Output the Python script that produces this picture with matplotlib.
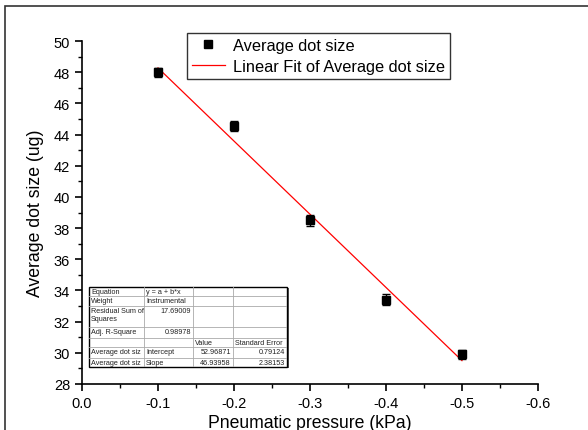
import matplotlib
matplotlib.use("Agg")
import matplotlib.pyplot as plt
import numpy as np
from matplotlib.patches import Rectangle
from matplotlib.lines import Line2D

plt.rcParams['font.family'] = ['Liberation Sans', 'DejaVu Sans']

pressure = [-0.1, -0.2, -0.3, -0.4, -0.5]
dot_size = [48.0, 44.55, 38.5, 33.4, 29.9]
dot_err = [0.3, 0.3, 0.35, 0.35, 0.3]
intercept = 52.96871
slope = 46.93958
xticks = [0.0, -0.1, -0.2, -0.3, -0.4, -0.5, -0.6]
yticks = [28, 30, 32, 34, 36, 38, 40, 42, 44, 46, 48, 50]

table_rows = [
    ["Equation", "y = a + b*x", "", ""],
    ["Weight", "Instrumental", "", ""],
    ["Residual Sum of\nSquares", "17.69009", "", ""],
    ["Adj. R-Square", "0.98978", "", ""],
    ["", "", "Value", "Standard Error"],
    ["Average dot siz", "Intercept", "52.96871", "0.79124"],
    ["Average dot siz", "Slope", "46.93958", "2.38153"],
]

W, H = 588, 431
fig = plt.figure(figsize=(W/100, H/100), dpi=100)

# outer frame
fig.patches.append(Rectangle((5/W, -0.1), 1.2, (H-7)/H + 0.1, transform=fig.transFigure,
                             fill=False, edgecolor='#333333', lw=1.2))

ax = fig.add_axes([82/W, 1-385/H, (538-82)/W, (385-42)/H])
ax.set_xlim(0, -0.6)
ax.set_ylim(28, 50)
for s in ['top', 'right']:
    ax.spines[s].set_visible(False)
for s in ['left', 'bottom']:
    ax.spines[s].set_linewidth(1.2)

ax.set_xticks(xticks)
ax.set_xticklabels([f"{v:.1f}" for v in xticks])
ax.set_yticks(yticks)
ax.set_xticks(np.arange(-0.05, -0.6, -0.1), minor=True)
ax.set_yticks(np.arange(29, 50, 2), minor=True)
ax.tick_params(axis='both', which='major', direction='out', length=5, width=1.2, labelsize=10.5)
ax.tick_params(axis='both', which='minor', direction='out', length=3, width=1.0)

xfit = np.array([pressure[0], pressure[-1]])
yfit = intercept + slope * xfit
ax.plot(xfit, yfit, color='#ff0000', lw=0.9, zorder=2)
ax.errorbar(pressure, dot_size, yerr=dot_err, fmt='s', color='black', ms=6,
            capsize=3, elinewidth=1, zorder=3)

ax.set_xlabel('Pneumatic pressure (kPa)', fontsize=12.7, labelpad=3)
ax.set_ylabel('Average dot size (ug)', fontsize=12.7, labelpad=7)

h2 = [Line2D([], [], marker='s', ls='none', color='black', ms=6),
      Line2D([], [], color='#ff0000', lw=0.9)]
leg = ax.legend(h2, ['Average dot size', 'Linear Fit of Average dot size'],
                loc='upper left', bbox_to_anchor=((187-82)/(538-82), 1 + 8/(385-42)),
                fontsize=11.8, frameon=True, fancybox=False, edgecolor='black',
                borderpad=0.3, handlelength=2.0, labelspacing=0.35, handletextpad=0.5,
                borderaxespad=0)
leg.get_frame().set_linewidth(1.0)

# fit table
tx0, ty0, tx1, ty1 = 89, 288, 287, 368
tab = fig.add_axes([tx0/W, 1-ty1/H, (tx1-tx0)/W, (ty1-ty0)/H])
tab.set_xlim(tx0, tx1)
tab.set_ylim(ty1, ty0)
tab.axis('off')
cols = [89, 144, 193, 233, 287]
rows = [288, 297, 307, 328, 339, 348, 359, 368]
tab.add_patch(Rectangle((tx0+1.5, ty0+1.5), tx1-tx0, ty1-ty0, facecolor='#555555', edgecolor='none', zorder=0, clip_on=False))
tab.add_patch(Rectangle((tx0, ty0), tx1-tx0, ty1-ty0, facecolor='white', edgecolor='black', lw=1.0, zorder=1, clip_on=False))
for c in cols[1:-1]:
    tab.plot([c, c], [ty0, ty1], color='#aaaaaa', lw=0.6, zorder=2)
for r in rows[1:-1]:
    tab.plot([tx0, tx1], [r, r], color='#aaaaaa', lw=0.6, zorder=2)
fs = 5.2
tc = '#222222'
for i, row in enumerate(table_rows):
    ytop = rows[i]
    for j, txt in enumerate(row):
        if not txt:
            continue
        is_num = txt.replace('.', '').isdigit()
        if is_num:
            tab.text(cols[j+1]-2, ytop+1, txt, fontsize=fs, color=tc, ha='right', va='top', zorder=3)
        else:
            tab.text(cols[j]+2, ytop+1.5 if '\n' not in txt else ytop+1, txt, fontsize=fs, color=tc,
                     ha='left', va='top', linespacing=1.3, zorder=3)

fig.savefig('out.png', dpi=100)
